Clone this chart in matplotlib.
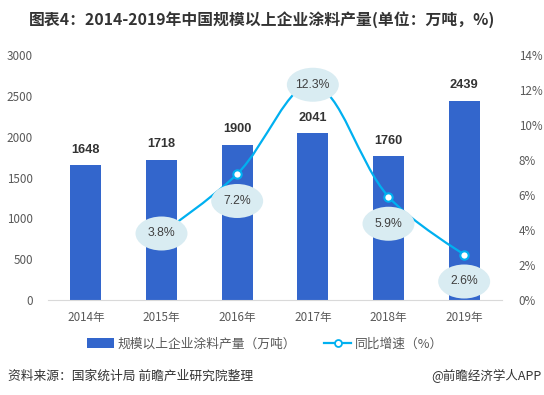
import numpy as np
import matplotlib
matplotlib.use("Agg")
import matplotlib.pyplot as plt
from matplotlib.patches import Ellipse, Patch, PathPatch
from matplotlib.lines import Line2D
from matplotlib.path import Path

plt.rcParams['font.family'] = ['Noto Sans CJK SC', 'DejaVu Sans']

years = ["2014年", "2015年", "2016年", "2017年", "2018年", "2019年"]
output = [1648, 1718, 1900, 2041, 1760, 2439]
growth_years = [1, 2, 3, 4, 5]
growth = [3.8, 7.2, 12.3, 5.9, 2.6]
left_ticks = [0, 500, 1000, 1500, 2000, 2500, 3000]
right_ticks = [0, 2, 4, 6, 8, 10, 12, 14]
# label placement: 0 = centred on point, 1 = below point
label_below = [0, 1, 0, 1, 1]

BAR = '#3366cc'
LINE = '#00b0f0'
ELL = '#d9ecf2'
TXT = '#595959'

W, H = 544, 395
fig = plt.figure(figsize=(W / 100, H / 100), dpi=100)
ax = fig.add_axes([48 / W, (H - 300) / H, (502 - 48) / W, 245 / H])
ax2 = ax.twinx()

x = np.arange(len(years))
ax.bar(x, output, width=0.41, color=BAR, zorder=2)
for xi, v in zip(x, output):
    ax.annotate(f"{v}", (xi, v), xytext=(0, 7), textcoords='offset points',
                ha='center', va='bottom', fontsize=9.2, fontweight='bold', color='#333333',
                family=['Liberation Sans', 'DejaVu Sans'])

ax.set_xlim(-0.5, 5.5)
ax.set_ylim(0, 3000)
ax.set_yticks(left_ticks)
ax.set_xticks(x)
ax.set_xticklabels(years)
ax2.set_ylim(0, 14)
ax2.set_yticks(right_ticks)
ax2.set_yticklabels([f"{t}%" for t in right_ticks])

for a in (ax, ax2):
    for s in a.spines.values():
        s.set_visible(False)
    a.tick_params(length=0, labelsize=8.4, colors=TXT)
ax.spines['bottom'].set_visible(True)
ax.spines['bottom'].set_color('#d9d9d9')
ax.tick_params(axis='y', pad=11)
ax.tick_params(axis='x', pad=8)
ax2.tick_params(axis='y', pad=12)

# smooth line (bezier through points, computed in display space)
fig.canvas.draw()
pts = ax2.transData.transform(np.column_stack([growth_years, growth]))
s = 0.35
verts = [pts[0]]
codes = [Path.MOVETO]
n = len(pts)
cps = []
for i in range(n):
    if i == 0 or i == n - 1:
        cps.append((pts[i], pts[i]))
        continue
    v = pts[i + 1] - pts[i - 1]
    d0 = np.linalg.norm(pts[i] - pts[i - 1])
    d1 = np.linalg.norm(pts[i + 1] - pts[i])
    cps.append((pts[i] - v * s * d0 / (d0 + d1), pts[i] + v * s * d1 / (d0 + d1)))
for i in range(n - 1):
    verts += [cps[i][1], cps[i + 1][0], pts[i + 1]]
    codes += [Path.CURVE4] * 3
inv = ax2.transData.inverted()
path = Path(inv.transform(np.array(verts)), codes)
ax2.add_patch(PathPatch(path, fc='none', ec=LINE, lw=1.6, zorder=3))
ax2.plot(growth_years, growth, ls='none', marker='o', ms=6, mfc='white', mec=LINE,
         mew=1.5, zorder=4)

# value labels in ellipses
px_per_pct = 245 / 14
for gx, gv, below in zip(growth_years, growth, label_below):
    cy = gv - (27 / px_per_pct if below else 0)
    ax2.add_patch(Ellipse((gx, cy), 52 / 75.7, 34 / px_per_pct, fc=ELL, ec='none', zorder=5))
    ax2.text(gx, cy, f"{gv}%", ha='center', va='center', fontsize=8.8, color='#404040', zorder=6,
             family=['Liberation Sans', 'DejaVu Sans'])

# title
fig.text(262 / W, 1 - 20 / H, "图表4：2014-2019年中国规模以上企业涂料产量(单位：万吨，%)",
         ha='center', va='center', fontsize=11.4, fontweight='bold', color='#333333')

# legend
handles = [Patch(fc=BAR, ec='none'),
           Line2D([], [], color=LINE, lw=1.6, marker='o', ms=5, mfc='white', mec=LINE, mew=1.3)]
fig.legend(handles, ["规模以上企业涂料产量（万吨）", "同比增速（%）"], ncol=2,
           loc='center', bbox_to_anchor=(265 / W, 1 - 344 / H), frameon=False,
           fontsize=9.2, labelcolor=TXT, handlelength=2.1, handleheight=0.75,
           handletextpad=0.3, columnspacing=2.2)

# footer
fig.text(8 / W, 1 - 376 / H, "资料来源：国家统计局 前瞻产业研究院整理", ha='left', va='center',
         fontsize=9.2, color='#333333')
fig.text(1 - 2 / W, 1 - 376 / H, "@前瞻经济学人APP", ha='right', va='center',
         fontsize=9, color='#333333')

fig.savefig("out.png", dpi=100)
